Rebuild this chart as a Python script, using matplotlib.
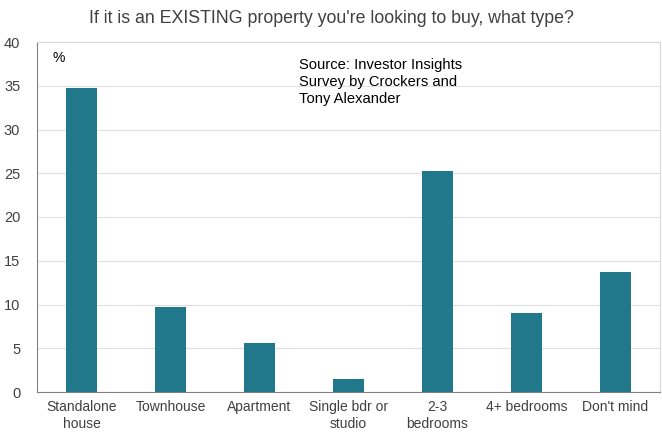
import matplotlib
matplotlib.use('Agg')
import matplotlib.pyplot as plt
import numpy as np

categories = ['Standalone\nhouse', 'Townhouse', 'Apartment', 'Single bdr or\nstudio',
              '2-3\nbedrooms', '4+ bedrooms', "Don't mind"]
values = [34.7, 9.7, 5.6, 1.5, 25.3, 9.0, 13.7]
yticks = [0, 5, 10, 15, 20, 25, 30, 35, 40]

BAR_COLOR = '#21788a'

plt.rcParams['font.family'] = ['Liberation Sans', 'DejaVu Sans']

fig = plt.figure(figsize=(6.62, 4.32), dpi=100)
ax = fig.add_axes([37 / 662, 40 / 432, 623 / 662, 350 / 432])

x = np.arange(len(categories))
ax.bar(x, values, width=0.34, color=BAR_COLOR, zorder=3)

ax.set_xlim(-0.5, len(categories) - 0.5)
ax.set_ylim(0, 40)
ax.set_yticks(yticks)
ax.set_xticks(x)
ax.set_xticklabels(categories, fontsize=10, color='#404040')
ax.tick_params(axis='y', labelsize=10.5, colors='#404040', length=0, pad=12)
ax.tick_params(axis='x', length=0, pad=6)
ax.grid(axis='y', color='#e0e0e0', lw=0.8, zorder=0)

for side in ['top', 'right']:
    ax.spines[side].set_color('#d9d9d9')
for side in ['left', 'bottom']:
    ax.spines[side].set_color('#808080')

ax.text(0.025, 0.975, '%', transform=ax.transAxes, fontsize=10, va='top', ha='left')
ax.text(0.42, 0.955, 'Source: Investor Insights\nSurvey by Crockers and\nTony Alexander',
        transform=ax.transAxes, fontsize=10.6, va='top', ha='left', linespacing=1.3)

fig.suptitle("If it is an EXISTING property you're looking to buy, what type?",
             x=0.5, y=0.978, fontsize=12.8, color='#404040')

fig.savefig('out.png', dpi=100)
